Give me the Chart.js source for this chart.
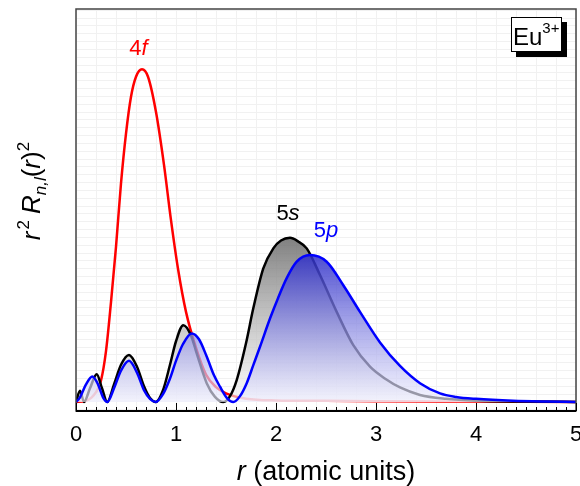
<!DOCTYPE html>
<html>
<head>
<meta charset="utf-8">
<script src="https://cdn.jsdelivr.net/npm/chart.js@4.4.0/dist/chart.umd.min.js"></script>
<style>
  html, body { margin: 0; padding: 0; background: #fff; }
</style>
</head>
<body>
<canvas id="radial" width="580" height="486"></canvas>
<script>
// r^2 R(r)^2 for Eu3+ (y in arbitrary units)
const r4f = [0, 0.1, 0.2, 0.25, 0.3, 0.35, 0.4, 0.45, 0.5, 0.55, 0.6, 0.66, 0.72, 0.8, 0.88, 0.95, 1.02, 1.1, 1.2, 1.3, 1.4, 1.5, 1.7, 2.0, 2.5, 3, 4, 5];
const p4f = [0, 0.03, 0.25, 0.55, 1.3, 2.55, 3.96, 5.58, 6.85, 7.79, 8.3, 8.49, 8.3, 7.4, 6.05, 4.64, 3.4, 2.3, 1.38, 0.7, 0.38, 0.22, 0.085, 0.04, 0.03, 0.02, 0.01, 0];

const r5s = [0, 0.04, 0.08, 0.14, 0.207, 0.26, 0.313, 0.38, 0.45, 0.53, 0.61, 0.68, 0.74, 0.797, 0.87, 0.94, 1.0, 1.073, 1.15, 1.207, 1.307, 1.39, 1.473, 1.54, 1.607, 1.7, 1.773, 1.873, 1.973, 2.05, 2.14, 2.22, 2.307, 2.44, 2.607, 2.773, 2.94, 3.1, 3.24, 3.44, 3.7, 4.0, 4.5, 5];
const p5s = [0, 0.29, 0, 0.35, 0.71, 0.35, 0, 0.45, 0.95, 1.2, 0.9, 0.4, 0.1, 0, 0.3, 0.95, 1.55, 1.96, 1.7, 1.24, 0.48, 0.13, 0, 0.15, 0.56, 1.5, 2.39, 3.41, 3.92, 4.12, 4.19, 4.1, 3.92, 3.24, 2.3, 1.45, 0.9, 0.58, 0.37, 0.18, 0.08, 0.03, 0.01, 0];

const r5p = [0, 0.04, 0.1, 0.163, 0.22, 0.27, 0.313, 0.38, 0.45, 0.53, 0.61, 0.68, 0.74, 0.797, 0.87, 0.94, 1.0, 1.07, 1.157, 1.23, 1.307, 1.38, 1.44, 1.51, 1.573, 1.64, 1.707, 1.773, 1.84, 1.94, 2.02, 2.107, 2.207, 2.34, 2.507, 2.673, 2.84, 3.04, 3.24, 3.44, 3.64, 3.8, 4.0, 4.37, 4.7, 5];
const p5p = [0, 0.12, 0.45, 0.65, 0.45, 0.12, 0, 0.35, 0.8, 1.05, 0.75, 0.3, 0.08, 0, 0.2, 0.6, 1.05, 1.48, 1.75, 1.6, 1.16, 0.68, 0.39, 0.1, 0, 0.15, 0.48, 0.94, 1.41, 2.13, 2.65, 3.16, 3.58, 3.75, 3.58, 2.98, 2.3, 1.52, 0.92, 0.48, 0.22, 0.13, 0.08, 0.03, 0.01, 0];

const xTicks = [0, 1, 2, 3, 4, 5];
const yMin = -0.23, yMax = 10.03;

const FONT = '"Liberation Sans", Arial, sans-serif';

function pts(rs, ps) {
  return rs.map((r, i) => ({ x: r, y: ps[i] }));
}

function fillGradient(top, bottom, peak) {
  return ctx => {
    const chart = ctx.chart;
    if (!chart.chartArea) return null;
    const y = chart.scales.y;
    const g = chart.ctx.createLinearGradient(0, y.getPixelForValue(peak), 0, y.getPixelForValue(0));
    g.addColorStop(0, top);
    g.addColorStop(1, bottom);
    return g;
  };
}

// draw a run of text pieces (italic / sub / sup) starting at x
function drawRich(ctx, x, y, parts, align) {
  let w = 0;
  parts.forEach(p => {
    ctx.font = (p.it ? 'italic ' : '') + p.size + 'px ' + FONT;
    p.w = ctx.measureText(p.t).width + (p.gap || 0);
    w += p.w;
  });
  let cx = align === 'center' ? x - w / 2 : x;
  parts.forEach(p => {
    ctx.font = (p.it ? 'italic ' : '') + p.size + 'px ' + FONT;
    ctx.fillText(p.t, cx, y + (p.dy || 0));
    cx += p.w;
  });
}

const decor = {
  id: 'decor',
  afterDatasetsDraw(chart) {
    const { ctx, chartArea: a, scales } = chart;
    const xs = scales.x, ys = scales.y;
    ctx.save();
    ctx.textBaseline = 'alphabetic';
    ctx.textAlign = 'left';
    // curve labels
    ctx.fillStyle = '#ff0000';
    drawRich(ctx, xs.getPixelForValue(0.625), ys.getPixelForValue(8.85), [
      { t: '4', size: 22 }, { t: 'f', size: 22, it: true }], 'center');
    ctx.fillStyle = '#000000';
    drawRich(ctx, xs.getPixelForValue(2.12), ys.getPixelForValue(4.65), [
      { t: '5', size: 22 }, { t: 's', size: 22, it: true }], 'center');
    ctx.fillStyle = '#0000ff';
    drawRich(ctx, xs.getPixelForValue(2.5), ys.getPixelForValue(4.22), [
      { t: '5', size: 22 }, { t: 'p', size: 22, it: true }], 'center');

    // frame
    ctx.strokeStyle = '#444';
    ctx.lineWidth = 1.5;
    ctx.strokeRect(a.left, a.top, a.right - a.left, a.bottom - a.top);
    ctx.strokeStyle = '#000';
    ctx.lineWidth = 2;
    ctx.beginPath();
    ctx.moveTo(a.left, a.bottom);
    ctx.lineTo(a.right, a.bottom);
    ctx.stroke();
    // inward ticks on the r axis
    ctx.lineWidth = 1;
    for (let k = 0; k <= 50; k++) {
      const px = Math.round(xs.getPixelForValue(k / 10)) + 0.5;
      const len = k % 10 === 0 ? 8 : 4;
      ctx.beginPath();
      ctx.moveTo(px, a.bottom);
      ctx.lineTo(px, a.bottom - len);
      ctx.stroke();
    }

    // Eu3+ box with shadow
    ctx.fillStyle = '#000';
    ctx.fillRect(516, 22, 51, 35);
    ctx.fillStyle = '#fff';
    ctx.fillRect(511, 17, 51, 35);
    ctx.strokeStyle = '#000';
    ctx.lineWidth = 1;
    ctx.strokeRect(511.5, 17.5, 50, 34);
    ctx.fillStyle = '#000';
    drawRich(ctx, 513, 45, [{ t: 'Eu', size: 24 }, { t: '3+', size: 15, dy: -12 }]);

    // axis titles
    drawRich(ctx, 326, 480, [
      { t: 'r', size: 27, it: true }, { t: ' (atomic units)', size: 27 }], 'center');
    ctx.translate(40, 191);
    ctx.rotate(-Math.PI / 2);
    drawRich(ctx, 0, 0, [
      { t: 'r', size: 26, it: true, gap: 2 }, { t: '2', size: 17, dy: -11, gap: 6 },
      { t: 'R', size: 26, it: true }, { t: 'n,l', size: 17, it: true, dy: 6 },
      { t: '(', size: 26 }, { t: 'r', size: 26, it: true }, { t: ')', size: 26 },
      { t: '2', size: 17, dy: -11 }], 'center');
    ctx.restore();
  }
};

const zeroWidth = s => { s.width = 0; };
const zeroHeight = s => { s.height = 0; s.paddingLeft = 0; s.paddingRight = 0; };

new Chart(document.getElementById('radial'), {
  type: 'line',
  data: {
    datasets: [
      {
        label: '4f', data: pts(r4f, p4f), order: 3,
        borderColor: '#ff0000', borderWidth: 2.5, fill: false
      },
      {
        label: '5s', data: pts(r5s, p5s), order: 2,
        borderColor: '#000000', borderWidth: 2.5, fill: 'origin',
        backgroundColor: fillGradient('rgba(110,110,110,0.88)', 'rgba(245,245,245,0.6)', 4.2)
      },
      {
        label: '5p', data: pts(r5p, p5p), order: 1,
        borderColor: '#0000ff', borderWidth: 2.5, fill: 'origin',
        backgroundColor: fillGradient('rgba(45,45,200,0.85)', 'rgba(240,240,255,0.65)', 3.75)
      }
    ]
  },
  options: {
    responsive: false,
    animation: false,
    events: [],
    layout: { padding: { top: 9, right: 4, left: 0, bottom: 0 } },
    elements: {
      point: { radius: 0 },
      line: { cubicInterpolationMode: 'monotone' }
    },
    plugins: { legend: { display: false }, tooltip: { enabled: false } },
    scales: {
      x: {
        type: 'linear', position: 'bottom', min: 0, max: 5,
        afterBuildTicks: s => { s.ticks = xTicks.map(v => ({ value: v })); },
        afterFit: s => { s.height = 75; s.paddingLeft = 0; s.paddingRight = 0; },
        grid: { color: '#d6d6d6', lineWidth: 1, drawTicks: false },
        border: { display: false, dash: [4, 3] },
        ticks: {
          color: '#000', padding: 11, maxRotation: 0,
          font: { family: FONT, size: 22 },
          callback: v => String(v)
        }
      },
      xMinor: {
        type: 'linear', position: 'bottom', min: 0, max: 5,
        afterBuildTicks: s => { s.ticks = Array.from({ length: 26 }, (_, i) => ({ value: i * 0.2 })); },
        afterFit: zeroHeight,
        grid: { color: '#f1f1f1', lineWidth: 1, drawTicks: false },
        border: { display: false },
        ticks: { display: false }
      },
      y: {
        type: 'linear', position: 'left', min: yMin, max: yMax,
        afterBuildTicks: s => { s.ticks = Array.from({ length: 11 }, (_, i) => ({ value: i })); },
        afterFit: s => { s.width = 76; },
        grid: { color: '#d6d6d6', lineWidth: 1, drawTicks: false },
        border: { display: false, dash: [4, 3] },
        ticks: { display: false }
      },
      yMinor: {
        type: 'linear', position: 'left', min: yMin, max: yMax,
        afterBuildTicks: s => { s.ticks = Array.from({ length: 52 }, (_, i) => ({ value: -0.2 + i * 0.2 })); },
        afterFit: zeroWidth,
        grid: { color: '#f1f1f1', lineWidth: 1, drawTicks: false },
        border: { display: false },
        ticks: { display: false }
      }
    }
  },
  plugins: [decor]
});
</script>
</body>
</html>
